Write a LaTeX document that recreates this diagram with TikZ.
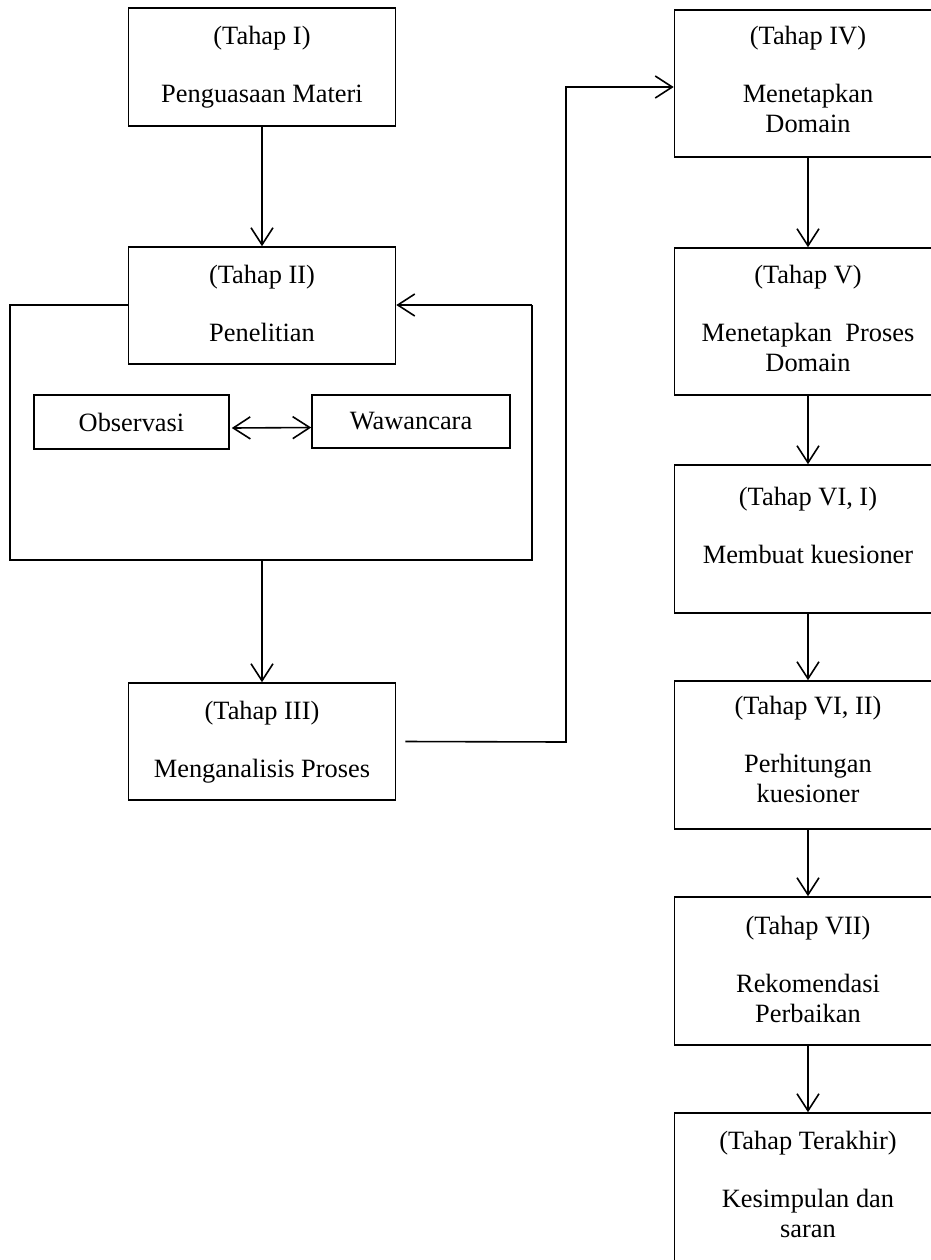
\documentclass[tikz,border=0pt]{standalone}
\usepackage{fontspec}
\setmainfont{Liberation Serif}
\usetikzlibrary{arrows.meta}
\begin{document}
\begin{tikzpicture}[x=0.5pt,y=-0.5pt,
  font=\fontsize{13.2}{15}\selectfont,
  box/.style={draw,line width=0.8pt,rectangle,inner sep=0pt,minimum width=133.5pt},
  txt/.style={anchor=north,inner sep=0pt,align=center},
  ln/.style={line width=0.8pt},
  arr/.style={line width=0.8pt,-{Straight Barb[length=8.5pt,width=11pt,line width=0.8pt]}},
  darr/.style={line width=0.8pt,{Straight Barb[length=8.5pt,width=11pt,line width=0.8pt]}-{Straight Barb[length=8.5pt,width=11pt,line width=0.8pt]}}]
\useasboundingbox (0,0) rectangle (931,1260);
\fill[white] (0,0) rectangle (931,1260);
\clip (0,0) rectangle (931,1260);
% left column
\node[box,minimum height=59pt] (b1) at (262,67) {};
\node[txt] (t1) at ([yshift=-9.5pt]b1.north) {(Tahap I)\\[14pt]Penguasaan Materi};
\node[box,minimum height=58.5pt] (b2) at (262,305.5) {};
\node[txt] (t2) at ([yshift=-9.5pt]b2.north) {(Tahap II)\\[14pt]Penelitian};
\node[box,minimum width=97.5pt,minimum height=27pt] (obs) at (131.5,422) {Observasi};
\node[box,minimum width=99pt,minimum height=26.5pt] (waw) at (411,421.5) {Wawancara};
\node[box,minimum height=58.5pt] (b3) at (262,741.5) {};
\node[txt] (t3) at ([yshift=-9.5pt]b3.north) {(Tahap III)\\[14pt]Menganalisis Proses};
% right column
\node[box,minimum height=73.5pt] (b4) at (808,83.5) {};
\node[txt] (t4) at ([yshift=-8.5pt]b4.north) {(Tahap IV)\\[14pt]Menetapkan\\Domain};
\node[box,minimum height=73.5pt] (b5) at (808,321.5) {};
\node[txt] (t5) at ([yshift=-9pt]b5.north) {(Tahap V)\\[14pt]Menetapkan~~Proses\\Domain};
\node[box,minimum height=74pt] (b6) at (808,539) {};
\node[txt] (t6) at ([yshift=-11.5pt]b6.north) {(Tahap VI, I)\\[14pt]Membuat kuesioner};
\node[box,minimum height=74pt] (b7) at (808,755) {};
\node[txt] (t7) at ([yshift=-8pt]b7.north) {(Tahap VI, II)\\[14pt]Perhitungan\\kuesioner};
\node[box,minimum height=74pt] (b8) at (808,971) {};
\node[txt] (t8) at ([yshift=-10pt]b8.north) {(Tahap VII)\\[14pt]Rekomendasi\\Perbaikan};
\node[box,minimum height=90pt] (b9) at (808,1203) {};
\node[txt] (t9) at ([yshift=-9.5pt]b9.north) {(Tahap Terakhir)\\[14pt]Kesimpulan dan\\saran};
% outer frame of Tahap II
\coordinate (otl) at (10,305);
\coordinate (obl) at (10,560);
\coordinate (obr) at (532,560);
\coordinate (otr) at (532,305);
\coordinate (ofb) at (262,560);
\draw[ln] (b2.west |- otl) -- (otl) -- (obl) -- (obr) -- (otr);
\draw[arr] (otr) -- (b2.east |- otr);
\draw[darr] ([xshift=1pt,yshift=-3pt]obs.east) -- ([yshift=-3pt]waw.west);
% arrows
\draw[arr] (b1.south) -- (b2.north);
\draw[arr] (ofb) -- (b3.north);
\coordinate (k1) at (566,742);
\coordinate (k2) at (566,87);
\draw[arr] ([xshift=4.5pt]b3.east) -- (k1) -- (k2) -- (k2 -| b4.west);
\draw[arr] (b4.south) -- (b5.north);
\draw[arr] (b5.south) -- (b6.north);
\draw[arr] (b6.south) -- (b7.north);
\draw[arr] (b7.south) -- (b8.north);
\draw[arr] (b8.south) -- (b9.north);
\end{tikzpicture}
\end{document}
